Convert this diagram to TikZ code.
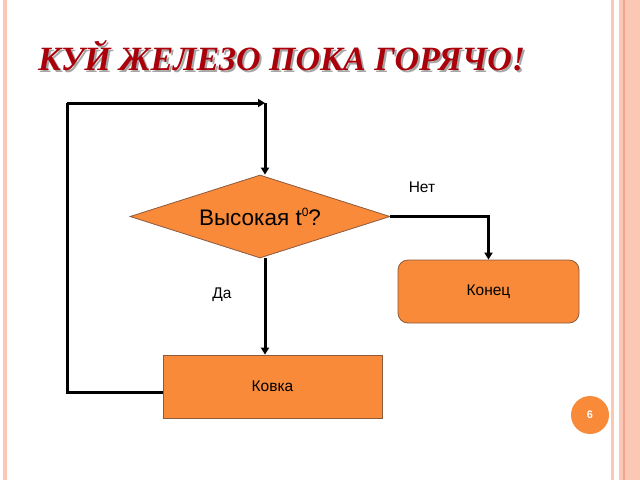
\documentclass[tikz,border=0pt]{standalone}
\usepackage{fontspec}
\setmainfont{Liberation Sans}
\newfontfamily\titlefont{Liberation Serif}
\usetikzlibrary{shapes.geometric,arrows.meta}
\definecolor{blocorange}{RGB}{248,138,58}
\definecolor{bloccontour}{RGB}{140,90,60}
\definecolor{titlered}{RGB}{170,0,10}
\definecolor{stripepink}{RGB}{251,200,182}
\definecolor{stripedark}{RGB}{240,166,140}

\begin{document}
\begin{tikzpicture}[x=1pt,y=-1pt,font=\fontsize{15.5}{18}\selectfont,
  bloc/.style={draw=bloccontour,line width=.8pt,fill=blocorange,inner sep=0pt},
  flow/.style={line width=3pt,-{Triangle[length=7pt,width=8pt]}},
  plain/.style={line width=3pt}]

\useasboundingbox (0,0) rectangle (640,480);
\fill[white] (0,0) rectangle (640,480);
% page stripes
\fill[stripepink] (3,0) rectangle (7,480);
\fill[stripepink] (611,0) rectangle (614,480);
\fill[stripepink] (619,0) rectangle (640,480);
\fill[stripedark] (623,0) rectangle (625,480);

% title with shadow
\node[anchor=base west,inner sep=0pt,text=gray!70] (titleshadow) at (40,72)
  {\titlefont\bfseries\itshape\fontsize{34}{36}\selectfont КУЙ ЖЕЛЕЗО ПОКА ГОРЯЧО!};
\node[anchor=base west,inner sep=0pt,text=titlered] (title) at (38,70)
  {\titlefont\bfseries\itshape\fontsize{34}{36}\selectfont КУЙ ЖЕЛЕЗО ПОКА ГОРЯЧО!};

% blocks
\node[bloc,diamond,aspect=3,minimum width=260pt,minimum height=83pt] (test) at (260,216.5)
  {\fontsize{22.5}{24}\selectfont Высокая t\raisebox{.75ex}{\fontsize{12}{12}\selectfont 0}?};
\node[bloc,rectangle,rounded corners=10pt,minimum width=181pt,minimum height=63pt] (konec) at (488.5,291.5) {Конец};
\node[bloc,rectangle,minimum width=219pt,minimum height=63pt] (kovka) at (272.5,386.5) {Ковка};

% connectors
\coordinate (loop) at (67,103);
\coordinate (top) at (265,103);
\draw[plain] ([yshift=-5.5pt]kovka.west) -| (loop);
\draw[flow] (loop) -- (top);
\draw[flow] (top) -- (top |- test.north);
\draw[flow] (test.east) -| (konec.north);
\draw[flow] (test.south -| top) -- (top |- kovka.north);

\node (net) at (422,187) {Нет};
\node (da) at (222,295) {Да};

% page number
\node[circle,fill=blocorange,minimum size=38pt,inner sep=0pt,text=white,
  font=\fontsize{11}{12}\selectfont\bfseries] (page) at (590,415) {6};

\end{tikzpicture}
\end{document}
